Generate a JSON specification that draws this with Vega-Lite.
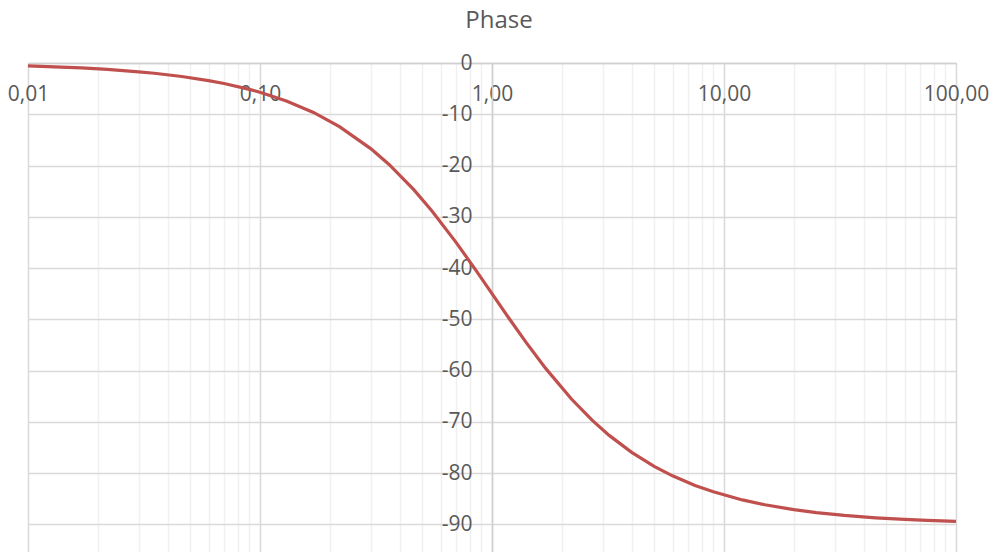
{
  "$schema": "https://vega.github.io/schema/vega-lite/v6.json",
  "width": 928,
  "height": 489,
  "autosize": {"type": "none"},
  "padding": {"left": 28, "top": 63, "right": 36, "bottom": 0},
  "background": "white",
  "title": {
    "text": "Phase",
    "fontSize": 24,
    "font": "Open Sans",
    "fontWeight": "normal",
    "color": "#595959",
    "anchor": "middle",
    "baseline": "alphabetic",
    "offset": 0,
    "dx": 7
  },
  "config": {
    "view": {"stroke": null},
    "axis": {"labelFont": "Open Sans", "labelFontSize": 21, "labelColor": "#595959"}
  },
  "data": {
    "values": [
      {"freq": 0.01, "phase": -0.57},
      {"freq": 0.013, "phase": -0.75},
      {"freq": 0.017, "phase": -0.97},
      {"freq": 0.022, "phase": -1.26},
      {"freq": 0.03, "phase": -1.72},
      {"freq": 0.035, "phase": -2.0},
      {"freq": 0.046, "phase": -2.63},
      {"freq": 0.06, "phase": -3.43},
      {"freq": 0.07, "phase": -4.0},
      {"freq": 0.09, "phase": -5.14},
      {"freq": 0.1, "phase": -5.71},
      {"freq": 0.13, "phase": -7.41},
      {"freq": 0.17, "phase": -9.65},
      {"freq": 0.22, "phase": -12.41},
      {"freq": 0.3, "phase": -16.7},
      {"freq": 0.36, "phase": -19.8},
      {"freq": 0.46, "phase": -24.7},
      {"freq": 0.55, "phase": -28.81},
      {"freq": 0.7, "phase": -34.99},
      {"freq": 0.85, "phase": -40.36},
      {"freq": 1.0, "phase": -45.0},
      {"freq": 1.2, "phase": -50.19},
      {"freq": 1.4, "phase": -54.46},
      {"freq": 1.7, "phase": -59.53},
      {"freq": 2.2, "phase": -65.56},
      {"freq": 2.7, "phase": -69.68},
      {"freq": 3.2, "phase": -72.65},
      {"freq": 4.0, "phase": -75.96},
      {"freq": 5.0, "phase": -78.69},
      {"freq": 6.0, "phase": -80.54},
      {"freq": 7.5, "phase": -82.41},
      {"freq": 9.0, "phase": -83.66},
      {"freq": 12.0, "phase": -85.24},
      {"freq": 15.0, "phase": -86.19},
      {"freq": 20.0, "phase": -87.14},
      {"freq": 25.0, "phase": -87.71},
      {"freq": 33.0, "phase": -88.26},
      {"freq": 45.0, "phase": -88.73},
      {"freq": 60.0, "phase": -89.05},
      {"freq": 75.0, "phase": -89.24},
      {"freq": 100.0, "phase": -89.43}
    ]
  },
  "mark": {"type": "line", "color": "#c0504d", "strokeWidth": 3.2, "clip": true},
  "encoding": {
    "x": {
      "field": "freq",
      "type": "quantitative",
      "scale": {"type": "log", "domain": [0.01, 100], "nice": false},
      "axis": {
        "title": null,
        "orient": "top",
        "values": [0.01, 0.02, 0.03, 0.04, 0.05, 0.06, 0.07, 0.08, 0.09,
                   0.1, 0.2, 0.3, 0.4, 0.5, 0.6, 0.7, 0.8, 0.9,
                   1, 2, 3, 4, 5, 6, 7, 8, 9,
                   10, 20, 30, 40, 50, 60, 70, 80, 90, 100],
        "ticks": false,
        "domain": true,
        "domainColor": "#d0d0d0",
        "domainWidth": 1.5,
        "grid": true,
        "gridColor": {
          "condition": {
            "test": "abs(log(datum.value) / LN10 - round(log(datum.value) / LN10)) < 1e-6",
            "value": "#d9d9d9"
          },
          "value": "#f0f0f0"
        },
        "gridWidth": 1.5,
        "labelBaseline": "alphabetic",
        "labelPadding": -37,
        "labelAlign": "center",
        "labelBound": false,
        "labelFlush": false,
        "labelOverlap": false,
        "labelExpr": "abs(log(datum.value) / LN10 - round(log(datum.value) / LN10)) < 1e-6 ? replace(format(datum.value, '.2f'), '.', ',') : ''"
      }
    },
    "y": {
      "field": "phase",
      "type": "quantitative",
      "scale": {"domain": [-95.4, 0], "nice": false, "zero": false},
      "axis": {
        "title": null,
        "orient": "left",
        "offset": -464,
        "values": [0, -10, -20, -30, -40, -50, -60, -70, -80, -90],
        "ticks": false,
        "domain": true,
        "domainColor": "#cfcfcf",
        "domainWidth": 1.5,
        "grid": true,
        "gridColor": "#d9d9d9",
        "gridWidth": 1.5,
        "labelPadding": 20,
        "labelAlign": "right",
        "labelBaseline": "middle",
        "labelExpr": "'' + datum.value"
      }
    }
  }
}
